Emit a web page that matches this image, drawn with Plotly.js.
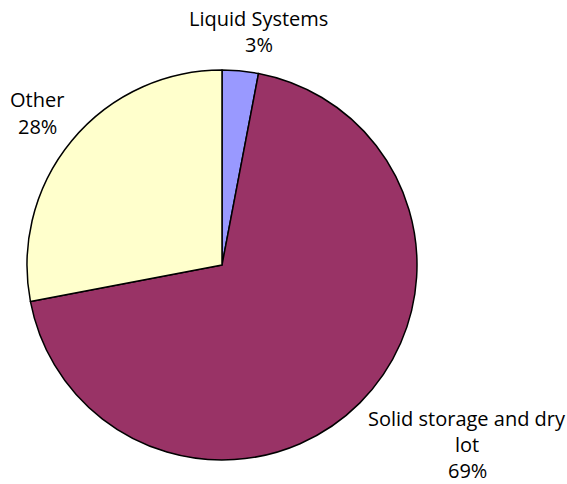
<!DOCTYPE html>
<html>
<head>
<meta charset="utf-8">
<script src="https://cdn.plot.ly/plotly-3.0.1.min.js"></script>
<style>html,body{margin:0;padding:0;background:#fff;}#chart{width:567px;height:484px;}</style>
</head>
<body>
<div id="chart"></div>
<script>
const categories = ["Liquid Systems", "Solid storage and dry lot", "Other"];
const labelLines = [["Liquid Systems"], ["Solid storage and dry", "lot"], ["Other"]];
const values = [3, 69, 28];
const colors = ["#9999FF", "#993366", "#FFFFCC"];

const total = values.reduce((a, b) => a + b, 0);
const pct = values.map(v => Math.round(v / total * 100) + "%");

// first-line centre of each label block (pixels) and line step
const labelPos = [
  {x: 258.5, y: 18.5},
  {x: 467, y: 418},
  {x: 37, y: 100}
];
const lineStep = 26;

const W = 567, H = 484;
const font = {family: "Open Sans, DejaVu Sans, sans-serif", size: 20, color: "#000"};

const annotations = [];
categories.forEach((c, i) => {
  const lines = labelLines[i].concat([pct[i]]);
  lines.forEach((t, k) => {
    annotations.push({
      text: t,
      x: labelPos[i].x / W,
      y: 1 - (labelPos[i].y + k * lineStep) / H,
      xref: "paper", yref: "paper",
      xanchor: "center", yanchor: "middle",
      showarrow: false,
      align: "center",
      borderpad: 0,
      font: font
    });
  });
});

const trace = {
  type: "pie",
  labels: categories,
  values: values,
  sort: false,
  direction: "clockwise",
  rotation: 0,
  marker: {colors: colors, line: {color: "#000", width: 1.5}},
  textinfo: "none",
  hoverinfo: "label+percent",
  domain: {x: [27 / W, 417 / W], y: [(H - 460) / H, (H - 70) / H]}
};

const layout = {
  width: W, height: H,
  margin: {l: 0, r: 0, t: 0, b: 0},
  showlegend: false,
  paper_bgcolor: "#fff",
  plot_bgcolor: "#fff",
  font: font,
  annotations: annotations
};

Plotly.newPlot("chart", [trace], layout, {displayModeBar: false, staticPlot: true});
</script>
</body>
</html>
